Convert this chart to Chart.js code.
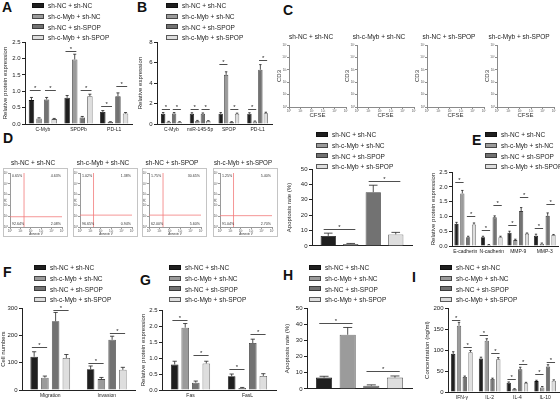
<!DOCTYPE html>
<html>
<head>
<meta charset="utf-8">
<script src="https://cdn.jsdelivr.net/npm/chart.js@4.4.0/dist/chart.umd.min.js"></script>
<style>
body { margin: 0; background: #fff; }
#fig { position: relative; width: 560px; height: 403px; overflow: hidden; font-family: 'Liberation Sans', Arial, sans-serif; color: #222; }
#fig canvas { position: absolute; }
.lab { position: absolute; font-weight: bold; font-size: 14px; line-height: 1; color: #111; }
.leg { position: absolute; font-size: 6.5px; line-height: 10.8px; white-space: nowrap; color: #222; will-change: transform; }
.leg .sw { display: inline-block; width: 10px; height: 3px; border: 1px solid; vertical-align: middle; margin-right: 4px; position: relative; top: -1px; }
.box { position: absolute; border: 1px solid #c4c4c4; box-sizing: border-box; }
</style>
</head>
<body>
<div id="fig"></div>
<script>
// groups shared by every panel
var groups = ['sh-NC + sh-NC', 'sh-c-Myb + sh-NC', 'sh-NC + sh-SPOP', 'sh-c-Myb + sh-SPOP'];
var fills = ['#1f1f1f', '#9b9b9b', '#727272', '#dedede'];
var edges = ['#111111', '#474747', '#3c3c3c', '#5a5a5a'];

// A
var aCats = ['C-Myb', 'SPOPb', 'PD-L1'];
var aMean = [[0.73, 0.80, 0.37], [0.17, 1.97, 0.06], [0.75, 0.20, 0.85], [0.15, 0.85, 0.32]];
var aErr = [[0.08, 0.07, 0.04], [0.02, 0.16, 0.01], [0.06, 0.03, 0.10], [0.02, 0.06, 0.03]];
var aSig = [[0, 0, 1, 1.05], [0, 2, 3, 1.05], [1, 0, 1, 2.24], [1, 2, 3, 1.04], [2, 0, 1, 0.55], [2, 2, 3, 1.15]];

// B
var bCats = ['C-Myb', 'miR-145-5p', 'SPOP', 'PD-L1'];
var bMean = [[1.0, 1.0, 1.0, 1.0], [0.22, 0.3, 4.8, 0.25], [1.02, 1.0, 0.2, 5.3], [0.2, 0.3, 1.0, 1.05]];
var bErr = [[0.12, 0.1, 0.12, 0.1], [0.04, 0.05, 0.3, 0.04], [0.1, 0.08, 0.03, 0.5], [0.03, 0.03, 0.06, 0.1]];
var bSig = [[0, 0, 1, 1.45], [0, 2, 3, 1.45], [1, 0, 1, 1.45], [1, 2, 3, 1.45], [2, 0, 1, 5.9], [2, 2, 3, 1.45], [3, 0, 1, 1.45], [3, 2, 3, 6.3]];

// C / D flow plots
var tickExp = ['10\u2070', '10\u00b9', '10\u00b2', '10\u00b3', '10\u2074', '10\u2075'];
var flowTL = ['0.65%', '1.02%', '1.75%', '1.25%'];
var flowTR = ['4.63%', '1.38%', '30.65%', '5.40%'];
var flowBL = ['92.64%', '96.65%', '62.00%', '91.04%'];
var flowBR = ['2.08%', '0.94%', '5.60%', '2.70%'];
var gateX = [1.35, 1.3, 1.35, 1.3];
var gateY = [0.95, 1.1, 1.1, 1.05];

// D bar
var dMean = [[6.5], [1.3], [35], [7.5]];
var dErr = [[1.8], [0.3], [4.5], [1.3]];
var dSig = [[0, 0, 1, 10.8], [0, 2, 3, 42]];

// E
var eCats = ['E-cadherin', 'N-cadherin', 'MMP-9', 'MMP-3'];
var eMean = [[0.75, 0.30, 0.45, 0.35], [1.78, 0.04, 0.20, 0.08], [0.30, 0.97, 1.18, 1.02], [0.73, 0.30, 0.42, 0.37]];
var eErr = [[0.05, 0.03, 0.05, 0.05], [0.1, 0.01, 0.03, 0.02], [0.03, 0.05, 0.12, 0.1], [0.05, 0.03, 0.02, 0.02]];
var eSig = [[0, 0, 1, 2.15], [0, 2, 3, 1.0], [1, 0, 1, 0.54], [1, 2, 3, 1.4], [2, 0, 1, 0.7], [2, 2, 3, 1.66], [3, 0, 1, 0.6], [3, 2, 3, 1.43]];

// F
var fCats = ['Migration', 'Invasion'];
var fMean = [[122, 76], [45, 40], [252, 184], [117, 74]];
var fErr = [[18, 12], [6, 6], [32, 13], [13, 9]];
var fSig = [[0, 0, 1, 159], [0, 2, 3, 294], [1, 0, 1, 100], [1, 2, 3, 208]];

// G
var gCats = ['Fas', 'FasL'];
var gMean = [[0.8, 0.43], [1.95, 0.06], [0.23, 1.47], [0.83, 0.44]];
var gErr = [[0.1, 0.07], [0.13, 0.02], [0.05, 0.12], [0.07, 0.07]];
var gSig = [[0, 0, 1, 2.2], [0, 2, 3, 1.1], [1, 0, 1, 0.65], [1, 2, 3, 1.74]];

// H
var hMean = [[7], [33.5], [2], [7]];
var hErr = [[0.8], [4.5], [0.5], [1]];
var hSig = [[0, 0, 1, 40.8], [0, 2, 3, 10.8]];

// I
var iCats = ['IFN-\u03b3', 'IL-2', 'IL-4', 'IL-10'];
var iMean = [[91, 80, 22, 26], [158, 122, 7, 11], [36, 31, 54, 61], [95, 78, 21, 27]];
var iErr = [[5, 3, 2, 2], [8, 5, 1, 2], [2, 2, 5, 4], [4, 4, 2, 2]];
var iSig = [[0, 0, 1, 172], [0, 2, 3, 108], [1, 0, 1, 136], [1, 2, 3, 92], [2, 0, 1, 32], [2, 2, 3, 66], [3, 0, 1, 42], [3, 2, 3, 72]];

Chart.defaults.font.family = "'Liberation Sans', Arial, sans-serif";
Chart.defaults.color = '#222';

var fig = document.getElementById('fig');

function addCanvas(x, y, w, h) {
    var c = document.createElement('canvas');
    c.width = w; c.height = h;
    c.style.left = x + 'px'; c.style.top = y + 'px';
    c.style.width = w + 'px'; c.style.height = h + 'px';
    fig.appendChild(c);
    return c;
}

function addText(cls, x, y, txt) {
    var d = document.createElement('div');
    d.className = cls;
    d.style.left = x + 'px'; d.style.top = y + 'px';
    d.textContent = txt;
    fig.appendChild(d);
    return d;
}

function legend(x, y) {
    var d = document.createElement('div');
    d.className = 'leg';
    d.style.left = x + 'px'; d.style.top = (y - 5.4) + 'px';
    groups.forEach(function (g, i) {
        var row = document.createElement('div');
        var sw = document.createElement('span');
        sw.className = 'sw';
        sw.style.background = fills[i];
        sw.style.borderColor = edges[i];
        row.appendChild(sw);
        row.appendChild(document.createTextNode(g));
        d.appendChild(row);
    });
    fig.appendChild(d);
}

// error bars + significance brackets
var errPlugin = {
    id: 'errs',
    afterDatasetsDraw: function (chart, args, opts) {
        var ctx = chart.ctx;
        var ys = chart.scales.y;
        ctx.save();
        ctx.strokeStyle = '#222';
        ctx.lineWidth = 0.8;
        chart.data.datasets.forEach(function (ds, i) {
            var meta = chart.getDatasetMeta(i);
            meta.data.forEach(function (bar, j) {
                var top = ys.getPixelForValue(ds.data[j] + ds.err[j]);
                var cap = bar.width * 0.28;
                ctx.beginPath();
                ctx.moveTo(bar.x, bar.y);
                ctx.lineTo(bar.x, top);
                ctx.moveTo(bar.x - cap, top);
                ctx.lineTo(bar.x + cap, top);
                ctx.stroke();
            });
        });
        ctx.fillStyle = '#222';
        ctx.font = "6px 'Liberation Sans', Arial, sans-serif";
        ctx.textAlign = 'center';
        ctx.textBaseline = 'bottom';
        (opts.sig || []).forEach(function (s) {
            var ba = chart.getDatasetMeta(s[1]).data[s[0]];
            var bb = chart.getDatasetMeta(s[2]).data[s[0]];
            var py = Math.round(ys.getPixelForValue(s[3])) + 0.5;
            var x1 = ba.x - ba.width * 0.3, x2 = bb.x + bb.width * 0.3;
            ctx.beginPath();
            ctx.moveTo(x1, py);
            ctx.lineTo(x2, py);
            ctx.stroke();
            ctx.fillText('*', (x1 + x2) / 2, py + 1);
        });
        ctx.restore();
    }
};

// lay: [left, top, width, height, yAxisWidth, xAxisHeight, catPct, barPct]
function barPanel(lay, cats, mean, err, sig, yMax, yStep, yTitle, dec) {
    var c = addCanvas(lay[0], lay[1], lay[2], lay[3]);
    var showX = cats.length > 1;
    new Chart(c.getContext('2d'), {
        type: 'bar',
        data: {
            labels: cats,
            datasets: mean.map(function (m, i) {
                return {
                    label: groups[i], data: m, err: err[i],
                    backgroundColor: fills[i], borderColor: edges[i], borderWidth: 0.8,
                    categoryPercentage: lay[6], barPercentage: lay[7]
                };
            })
        },
        options: {
            responsive: false, animation: false, devicePixelRatio: 1,
            layout: { padding: { top: 5, right: 2, left: 0, bottom: 0 } },
            plugins: { legend: { display: false }, tooltip: { enabled: false }, errs: { sig: sig } },
            scales: {
                x: {
                    grid: { display: false, drawTicks: false },
                    border: { display: true, color: '#222', width: 1 },
                    ticks: { display: showX, font: { size: 5 }, padding: 3, maxRotation: 0, autoSkip: false, color: '#222' },
                    afterFit: function (s) { s.height = lay[5]; }
                },
                y: {
                    min: 0, max: yMax,
                    ticks: { stepSize: yStep, font: { size: 6 }, padding: 1.5, color: '#222',
                        callback: function (v) { return v.toFixed(dec); } },
                    grid: { display: true, drawOnChartArea: false, drawTicks: true, tickLength: 3, color: '#222' },
                    border: { display: true, color: '#222', width: 1 },
                    title: { display: true, text: yTitle, font: { size: 6 }, padding: { top: 0, bottom: 1 }, color: '#222' },
                    afterFit: function (s) { s.width = lay[4]; }
                }
            }
        },
        plugins: [errPlugin]
    });
}

// corner percentages on flow plots
var quadPlugin = {
    id: 'quads',
    afterDatasetsDraw: function (chart, args, opts) {
        if (!opts.txt) return;
        var a = chart.chartArea, ctx = chart.ctx;
        ctx.save();
        ctx.fillStyle = '#333';
        ctx.font = "3.6px 'Liberation Sans', Arial, sans-serif";
        ctx.textBaseline = 'top';
        ctx.textAlign = 'left';
        ctx.fillText(opts.txt[0], a.left + 2, a.top + 1.5);
        ctx.textAlign = 'right';
        ctx.fillText(opts.txt[1], a.right - 1, a.top + 1.5);
        ctx.textBaseline = 'bottom';
        ctx.textAlign = 'left';
        ctx.fillText(opts.txt[2], a.left + 2, a.bottom - 1.5);
        ctx.textAlign = 'right';
        ctx.fillText(opts.txt[3], a.right - 1, a.bottom - 1.5);
        ctx.restore();
    }
};

// lay: [left, top, width, height, yAxisWidth, xAxisHeight, padTop, padRight, titleGap]
function flowPanel(lay, title, xTitle, yTitle, titleSize, col, sets, txt) {
    var c = addCanvas(lay[0], lay[1], lay[2], lay[3]);
    new Chart(c.getContext('2d'), {
        type: 'scatter',
        data: { datasets: sets },
        options: {
            responsive: false, animation: false, devicePixelRatio: 1,
            layout: { padding: { top: lay[6], right: lay[7], left: 0, bottom: 0 } },
            plugins: {
                legend: { display: false }, tooltip: { enabled: false }, quads: { txt: txt },
                title: { display: true, text: title, font: { size: 6.5, weight: 'normal' }, color: '#222',
                    padding: { top: 0, bottom: lay[8] } }
            },
            scales: {
                x: {
                    type: 'linear', min: 0, max: 5,
                    ticks: { stepSize: 1, font: { size: 3 }, padding: 0, color: '#555', maxRotation: 0,
                        callback: function (v) { return tickExp[v]; } },
                    grid: { display: true, drawOnChartArea: false, tickLength: 2, color: col },
                    border: { display: true, color: col },
                    title: { display: true, text: xTitle, font: { size: titleSize }, padding: 0, color: '#333' },
                    afterFit: function (s) { s.height = lay[5]; }
                },
                y: {
                    type: 'linear', min: 0, max: 5,
                    ticks: { stepSize: 1, font: { size: 3 }, padding: 0, color: '#555',
                        callback: function (v) { return tickExp[v]; } },
                    grid: { display: true, drawOnChartArea: false, tickLength: 2, color: col },
                    border: { display: true, color: col },
                    title: { display: true, text: yTitle, font: { size: titleSize }, padding: 0, color: '#333' },
                    afterFit: function (s) { s.width = lay[4]; }
                }
            }
        },
        plugins: [quadPlugin]
    });
}

// panel letters
[['A', 2, 0], ['B', 137, 0], ['C', 283, 3], ['D', 3, 131], ['E', 472, 133],
 ['F', 3, 265], ['G', 140, 273], ['H', 283, 268], ['I', 412, 270]].forEach(function (p) {
    addText('lab', p[1], p[2], p[0]);
});

// A, B
legend(32, 6.5);
barPanel([2, 37, 132, 101, 23, 14, 0.85, 0.72], aCats, aMean, aErr, aSig, 2.5, 0.5, 'Relative protein expression', 1);
legend(166, 6.5);
barPanel([137, 37, 137, 101, 20, 14, 0.76, 0.8], bCats, bMean, bErr, bSig, 8, 2, 'Relative expression', 0);

// C: four empty CFSE / CD3 plots, title included in each canvas
var cLeft = [289, 357, 427, 497];
cLeft.forEach(function (x, i) {
    flowPanel([x - 13, 33, 73, 86, 13, 12, 0, 3, 4.2], groups[i], 'CFSE', 'CD3', 6, '#8a8a8a', [], null);
});

// D: flow plots
var dLeft = [3, 73, 142, 213];
dLeft.forEach(function (x, i) {
    var b = document.createElement('div');
    b.className = 'box';
    b.style.left = x + 'px'; b.style.top = '168px';
    b.style.width = '65px'; b.style.height = '69px';
    fig.appendChild(b);
    var red = { showLine: true, borderColor: '#f27b7b', borderWidth: 0.8, pointRadius: 0 };
    var sets = [
        Object.assign({ data: [{ x: gateX[i], y: 0 }, { x: gateX[i], y: 5 }] }, red),
        Object.assign({ data: [{ x: 0, y: gateY[i] }, { x: 5, y: gateY[i] }] }, red)
    ];
    flowPanel([x + 1, 159, 63, 77, 6, 9, 0, 5, 6.2], groups[i], 'Annexin V', 'PI', 3, '#9a9a9a', sets,
        [flowTL[i], flowTR[i], flowBL[i], flowBR[i]]);
});

// D bar, E
legend(316, 135);
barPanel([286, 164, 128, 87, 26, 4, 0.9, 0.68], [''], dMean, dErr, dSig, 50, 10, 'Apoptosis rate (%)', 0);
legend(485, 135);
barPanel([430, 167, 130, 93, 22, 14, 0.88, 0.72], eCats, eMean, eErr, eSig, 2.5, 0.5, 'Relative protein expression', 1);

// F, G, H, I
legend(34, 268);
barPanel([0, 303, 137, 101, 22, 14, 0.76, 0.7], fCats, fMean, fErr, fSig, 300, 100, 'Cell numbers', 0);
legend(169, 268);
barPanel([140, 305, 138, 99, 22, 14, 0.74, 0.72], gCats, gMean, gErr, gSig, 2.5, 0.5, 'Relative protein expression', 1);
legend(309, 268);
barPanel([284, 303, 130, 91, 23, 4, 0.9, 0.68], [''], hMean, hErr, hSig, 50, 10, 'Apoptosis rate (%)', 0);
legend(440, 268);
barPanel([424, 303, 137, 103, 24, 14, 0.83, 0.75], iCats, iMean, iErr, iSig, 200, 50, 'Concentration (ng/ml)', 0);
</script>
</body>
</html>
